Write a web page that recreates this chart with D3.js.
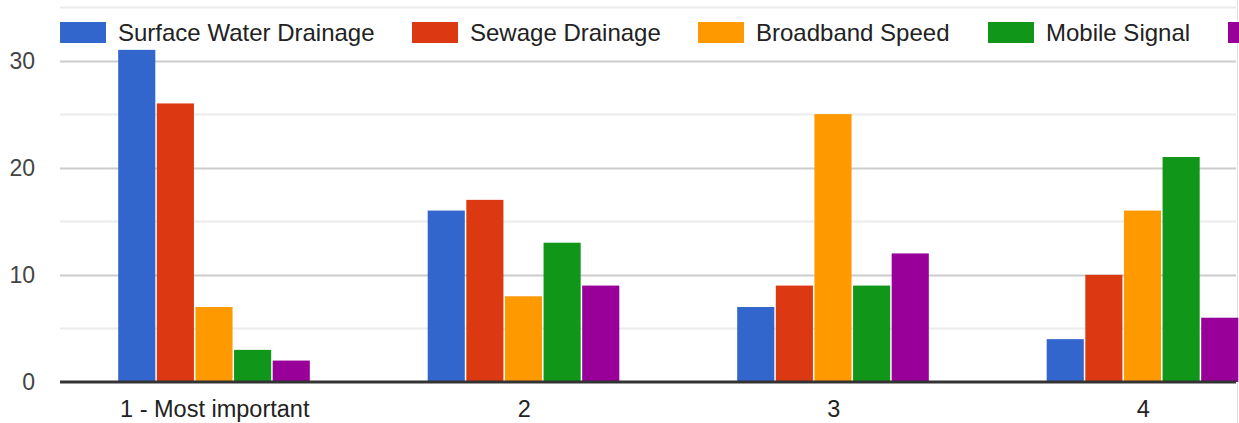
<!DOCTYPE html>
<html>
<head>
<meta charset="utf-8">
<script src="https://cdn.jsdelivr.net/npm/d3@7"></script>
<style>
    body { margin: 0; background: #fff; }
    svg { display: block; font-family: Arial, "Liberation Sans", sans-serif; }
</style>
</head>
<body>
<svg id="chart" width="1239" height="423"></svg>
<script>
const categories = ["1 - Most important", "2", "3", "4"];
const seriesNames = ["Surface Water Drainage", "Sewage Drainage", "Broadband Speed", "Mobile Signal", "Other"];
const seriesColors = ["#3366cc", "#dc3912", "#ff9900", "#109618", "#990099"];

// one array per series, one value per category
const surfaceWater = [31, 16, 7, 4];
const sewage = [26, 17, 9, 10];
const broadband = [7, 8, 25, 16];
const mobile = [3, 13, 9, 21];
const other = [2, 9, 12, 6];

const gridTicks = [0, 5, 10, 15, 20, 25, 30, 35];
const labelTicks = [0, 10, 20, 30];

const seriesValues = [surfaceWater, sewage, broadband, mobile, other];

const WIDTH = 1239;
const PLOT = {left: 60, right: 1236, top: 7, bottom: 382};
const svg = d3.select("#chart");

let y = d3.scaleLinear().domain([0, 35]).range([PLOT.bottom, PLOT.top]);

// the plot runs on past the right edge of the window, so the 4 bands use a wider range
let x0 = d3.scaleBand().domain(categories).range([PLOT.left, PLOT.left + 1238])
    .paddingInner(0.376).paddingOuter(0.188);
let x1 = d3.scaleBand().domain(seriesNames).range([0, x0.bandwidth()]);

function drawGrid() {
    svg.append("g").selectAll("line").data(gridTicks.filter(t => t > 0)).join("line")
        .attr("x1", PLOT.left).attr("x2", PLOT.right)
        .attr("y1", d => Math.round(y(d)) + 0.5).attr("y2", d => Math.round(y(d)) + 0.5)
        .attr("stroke", d => d % 10 === 0 ? "#cccccc" : "#ebebeb").attr("stroke-width", 2);

    // container edge on the right
    svg.append("line").attr("x1", 1237.5).attr("x2", 1237.5).attr("y1", 0).attr("y2", 423)
        .attr("stroke", "#e0e0e0").attr("stroke-width", 1);
}

function drawYLabels() {
    svg.append("g").selectAll("text").data(labelTicks).join("text")
        .attr("x", 35).attr("y", d => y(d)).attr("dy", "0.36em")
        .attr("text-anchor", "end").attr("font-size", 23).attr("fill", "#444")
        .text(d => d);
}

function drawBars() {
    let groups = svg.append("g").selectAll("g").data(categories).join("g")
        .attr("transform", d => `translate(${x0(d)},0)`);

    groups.selectAll("rect")
        .data((d, i) => seriesNames.map((s, k) => ({series: s, color: seriesColors[k], value: seriesValues[k][i]})))
        .join("rect")
        .attr("x", d => x1(d.series)).attr("width", x1.bandwidth() - 1.5)
        .attr("y", d => y(d.value)).attr("height", d => y(0) - y(d.value))
        .attr("fill", d => d.color);
}

function drawXAxis() {
    svg.append("line").attr("x1", PLOT.left).attr("x2", PLOT.right)
        .attr("y1", y(0)).attr("y2", y(0))
        .attr("stroke", "#333").attr("stroke-width", 3);

    svg.append("g").selectAll("text").data(categories).join("text")
        .attr("x", d => x0(d) + x0.bandwidth() / 2).attr("y", 417)
        .attr("text-anchor", "middle").attr("font-size", 23.5).attr("fill", "#222")
        .text(d => d);
}

function drawLegend() {
    let itemX = [60, 412, 698, 988, 1228];
    let legend = svg.append("g").selectAll("g").data(seriesNames).join("g")
        .attr("transform", (d, i) => `translate(${itemX[i]},22)`);

    legend.append("rect").attr("width", 46).attr("height", 21)
        .attr("fill", (d, i) => seriesColors[i]);

    // the last entry's label falls outside the window, only its swatch shows
    legend.filter((d, i) => itemX[i] + 58 < WIDTH)
        .append("text").attr("x", 58).attr("y", 19)
        .attr("font-size", 24).attr("fill", "#222")
        .text(d => d);
}

drawGrid();
drawBars();
drawXAxis();
drawYLabels();
drawLegend();
</script>
</body>
</html>
